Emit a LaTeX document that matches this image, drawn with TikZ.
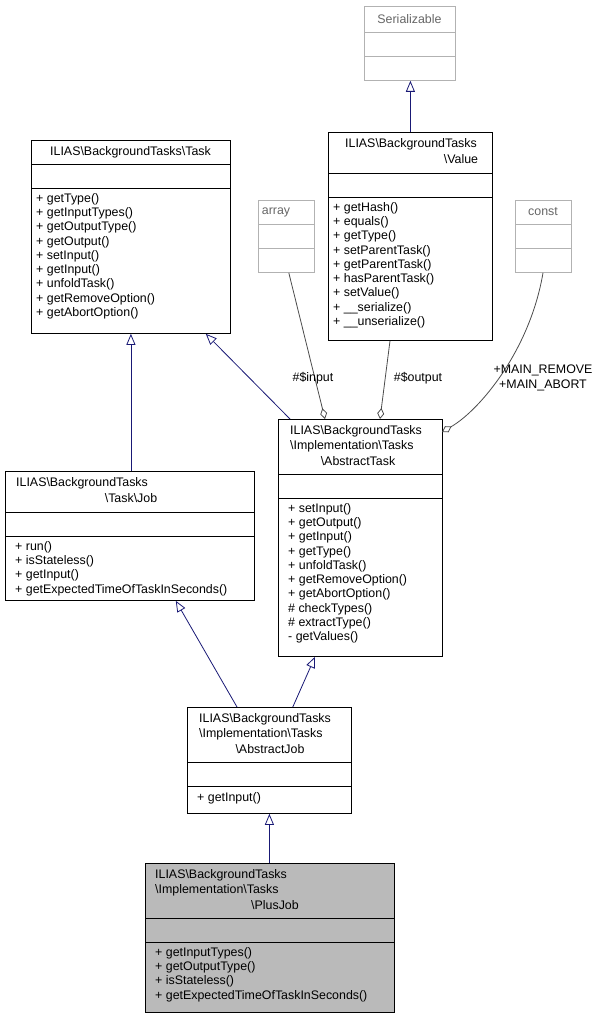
\documentclass[tikz,border=0pt]{standalone}
\usepackage{fontspec}
\setmainfont{Liberation Sans}
\usetikzlibrary{arrows.meta}
\begin{document}
\begin{tikzpicture}[x=1pt,y=-1pt,
  every node/.style={font=\fontsize{12.4}{14.3}\selectfont, inner sep=0pt},
  box/.style={draw=black, fill=white, anchor=north west, inner sep=0pt, line width=0.8pt},
  gbox/.style={draw=black!30, fill=white, anchor=north west, inner sep=0pt, line width=0.8pt},
  meth/.style={anchor=north west, align=left},
  inh/.style={draw=blue!40!black!90, line width=0.8pt, -{Triangle[open,length=11pt,width=9pt]}},
  use/.style={draw=black!70, line width=0.8pt, -{Diamond[open,length=11pt,width=7pt]}},
  lbl/.style={align=center}]
\useasboundingbox (0,0) rectangle (605,1019);

% Serializable
\node[gbox, minimum width=91pt, minimum height=74pt] (ser) at (364,6) {};
\draw[black!30, line width=0.8pt] (364,32) -- (455,32) (364,56) -- (455,56);
\node[text=black!60] at (409.5,19) {Serializable};

% Value
\node[box, minimum width=164pt, minimum height=208pt] (val) at (328,132) {};
\draw[line width=0.8pt] (328,173) -- (492,173) (328,197) -- (492,197);
\node at (411,144) {ILIAS\textbackslash BackgroundTasks};
\node at (461,159) {\textbackslash Value};
\node[meth] at (333,202) {+ getHash()\\+ equals()\\+ getType()\\+ setParentTask()\\+ getParentTask()\\+ hasParentTask()\\+ setValue()\\+ \_\_serialize()\\+ \_\_unserialize()};

% Task
\node[box, minimum width=199pt, minimum height=193pt] (task) at (31,140) {};
\draw[line width=0.8pt] (31,164) -- (230,164) (31,188) -- (230,188);
\node at (130.5,152) {ILIAS\textbackslash BackgroundTasks\textbackslash Task};
\node[meth] at (36,193) {+ getType()\\+ getInputTypes()\\+ getOutputType()\\+ getOutput()\\+ setInput()\\+ getInput()\\+ unfoldTask()\\+ getRemoveOption()\\+ getAbortOption()};

% array
\node[gbox, minimum width=56pt, minimum height=72pt] (arr) at (258,200) {};
\draw[black!30, line width=0.8pt] (258,224) -- (314,224) (258,248) -- (314,248);
\node[text=black!60] at (276,212) {array};

% const
\node[gbox, minimum width=56pt, minimum height=72pt] (cst) at (515,200) {};
\draw[black!30, line width=0.8pt] (515,224) -- (571,224) (515,248) -- (571,248);
\node[text=black!60] at (543,212) {const};

% AbstractTask
\node[box, minimum width=164pt, minimum height=237pt] (at) at (278,419) {};
\draw[line width=0.8pt] (278,474) -- (442,474) (278,498) -- (442,498);
\node[anchor=west] at (290,431) {ILIAS\textbackslash BackgroundTasks};
\node[anchor=west] at (290,446) {\textbackslash Implementation\textbackslash Tasks};
\node at (358,461) {\textbackslash AbstractTask};
\node[meth] at (288,503) {+ setInput()\\+ getOutput()\\+ getInput()\\+ getType()\\+ unfoldTask()\\+ getRemoveOption()\\+ getAbortOption()\\\# checkTypes()\\\# extractType()\\- getValues()};

% Job
\node[box, minimum width=249pt, minimum height=129pt] (job) at (5,471) {};
\draw[line width=0.8pt] (5,512) -- (254,512) (5,536) -- (254,536);
\node[anchor=west] at (16,483) {ILIAS\textbackslash BackgroundTasks};
\node at (131,498) {\textbackslash Task\textbackslash Job};
\node[meth] at (15,541) {+ run()\\+ isStateless()\\+ getInput()\\+ getExpectedTimeOfTaskInSeconds()};

% AbstractJob
\node[box, minimum width=164pt, minimum height=106pt] (aj) at (187,707) {};
\draw[line width=0.8pt] (187,762) -- (351,762) (187,786) -- (351,786);
\node[anchor=west] at (199,719) {ILIAS\textbackslash BackgroundTasks};
\node[anchor=west] at (199,734) {\textbackslash Implementation\textbackslash Tasks};
\node at (270,749) {\textbackslash AbstractJob};
\node[meth] at (197,792) {+ getInput()};

% PlusJob
\node[box, fill=black!27, minimum width=249pt, minimum height=149pt] (pj) at (145,863) {};
\draw[line width=0.8pt] (145,918) -- (394,918) (145,942) -- (394,942);
\node[anchor=west] at (155,875) {ILIAS\textbackslash BackgroundTasks};
\node[anchor=west] at (155,890) {\textbackslash Implementation\textbackslash Tasks};
\node at (275,905) {\textbackslash PlusJob};
\node[meth] at (155,947) {+ getInputTypes()\\+ getOutputType()\\+ isStateless()\\+ getExpectedTimeOfTaskInSeconds()};

% inheritance
\draw[inh] (val.north) -- (val.north |- ser.south);
\draw[inh] (job.north -| task.south) -- (task.south);
\draw[inh] ([xshift=12]at.north west) -- ([xshift=-25]task.south east);
\draw[inh] ([xshift=50]aj.north west) -- ([xshift=-79]job.south east);
\draw[inh] ([xshift=-59]aj.north east) -- ([xshift=37]at.south west);
\draw[inh] (aj.south |- pj.north) -- (aj.south);

% usage
\coordinate (a1) at (325,419);
\coordinate (a2) at (380,419);
\coordinate (a3) at (442,432);
\draw[use] ([xshift=-26]arr.south east) -- (a1);
\draw[use] ([xshift=62]val.south west) -- (a2);
\draw[use] ([xshift=28]cst.south west) .. controls (530,350) and (480,410) .. (a3);
\node at (313,378) {\#\$input};
\node at (418,378) {\#\$output};
\node[lbl] at (543,378) {+MAIN\_REMOVE\\+MAIN\_ABORT};
\end{tikzpicture}
\end{document}
